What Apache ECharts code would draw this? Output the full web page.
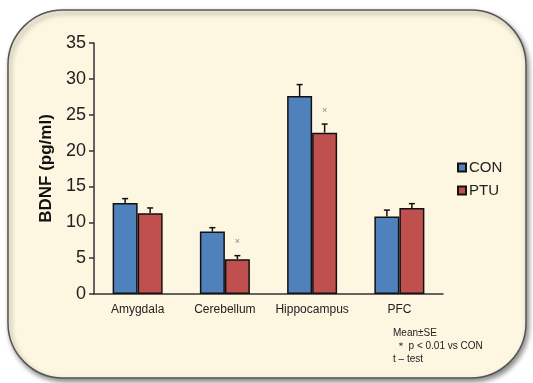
<!DOCTYPE html>
<html><head><meta charset="utf-8">
<script src="https://cdn.jsdelivr.net/npm/echarts@6/dist/echarts.min.js"></script>
<style>html,body{margin:0;padding:0;background:#fff}#c{width:533px;height:383px}</style>
</head><body><div id="c"></div>
<script>
const categories = ['Amygdala', 'Cerebellum', 'Hippocampus', 'PFC'];
const conMean = [12.7, 8.7, 27.6, 10.8];
const conSE = [0.6, 0.55, 1.6, 0.9];
const ptuMean = [11.25, 4.85, 22.5, 12.0];
const ptuSE = [0.75, 0.5, 1.2, 0.6];
const ptuSig = [false, true, true, false];
const yTicks = [0, 5, 10, 15, 20, 25, 30, 35];
const notes = ['Mean\u00b1SE', ' \uff0a p < 0.01 vs CON', 't \u2013 test'];

const BAR_W = 25;
const FONT = '"Liberation Sans", Arial, sans-serif';

function errSeries(name, mean, se, offset, sig) {
  return {
    type: 'custom', name: name + '_err', silent: true, z: 5,
    data: mean.map((m, i) => [i, m, se[i], sig ? (sig[i] ? 1 : 0) : 0]),
    renderItem: function (params, api) {
      const i = api.value(0), m = api.value(1), s = api.value(2), g = api.value(3);
      const base = api.coord([i, m]);
      const top = api.coord([i, m + s]);
      const x = base[0] + offset;
      const children = [
        { type: 'line', shape: { x1: x, y1: base[1], x2: x, y2: top[1] }, style: { stroke: '#111', lineWidth: 1.5 } },
        { type: 'line', shape: { x1: x - 3, y1: top[1], x2: x + 3, y2: top[1] }, style: { stroke: '#111', lineWidth: 1.5 } }
      ];
      if (g) {
        children.push({ type: 'text', style: { x: x, y: top[1] - 14, text: '\u00d7', fill: '#888', fontSize: 9, fontFamily: FONT, align: 'center', verticalAlign: 'middle' } });
      }
      return { type: 'group', children: children };
    }
  };
}

const chart = echarts.init(document.getElementById('c'), null, { renderer: 'canvas' });
chart.setOption({
  backgroundColor: '#ffffff',
  animation: false,
  graphic: [
    { type: 'rect', z: -10, shape: { x: 8, y: 10, width: 518, height: 368, r: 55 },
      style: { fill: '#fdf6e0', stroke: '#555', lineWidth: 1.5, shadowBlur: 5, shadowOffsetX: 2, shadowOffsetY: 3, shadowColor: 'rgba(0,0,0,0.45)' } },
    { type: 'text', left: 393, top: 327, z: 10, style: { text: notes.join('\n'), fontSize: 10, lineHeight: 13, fill: '#222', fontFamily: FONT } }
  ],
  grid: { left: 94, right: 90, top: 43, bottom: 89, containLabel: false },
  legend: {
    data: ['CON', 'PTU'], orient: 'vertical', left: 452, top: 155, itemGap: 8,
    itemWidth: 8, itemHeight: 8, icon: 'rect',
    textStyle: { fontSize: 15, color: '#222', fontFamily: FONT, padding: [0, 0, 0, -2] }
  },
  xAxis: {
    type: 'category', data: categories,
    axisLine: { lineStyle: { color: '#333', width: 1.5 } },
    axisTick: { show: false },
    axisLabel: { interval: 0, fontSize: 12, color: '#222', fontFamily: FONT, margin: 10 }
  },
  yAxis: {
    type: 'value', min: 0, max: 35, interval: 5,
    name: 'BDNF (pg/ml)', nameLocation: 'middle', nameGap: 38, nameRotate: 90,
    nameTextStyle: { fontSize: 17, fontWeight: 'bold', color: '#111', fontFamily: FONT },
    axisLine: { show: true, lineStyle: { color: '#333', width: 1.5 } },
    axisTick: { show: true, length: 5, lineStyle: { color: '#333', width: 1.5 } },
    splitLine: { show: false },
    axisLabel: { fontSize: 18, color: '#222', fontFamily: FONT, margin: 8,
      formatter: v => yTicks.includes(v) ? String(v) : '' }
  },
  series: [
    { type: 'bar', name: 'CON', data: conMean, barWidth: BAR_W, barGap: '0%',
      itemStyle: { color: '#4f81bd', borderColor: '#111', borderWidth: 1.5 } },
    { type: 'bar', name: 'PTU', data: ptuMean, barWidth: BAR_W, barGap: '0%',
      itemStyle: { color: '#c0504d', borderColor: '#111', borderWidth: 1.5 } },
    errSeries('CON', conMean, conSE, -BAR_W / 2, null),
    errSeries('PTU', ptuMean, ptuSE, BAR_W / 2, ptuSig)
  ]
});
</script></body></html>
